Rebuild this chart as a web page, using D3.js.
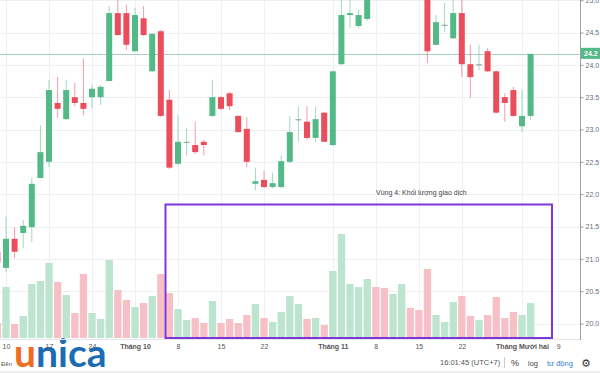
<!DOCTYPE html>
<html><head><meta charset="utf-8">
<script src="https://cdn.jsdelivr.net/npm/d3@7/dist/d3.min.js"></script>
<style>html,body{margin:0;padding:0;background:#fff;}svg{display:block;font-family:"Liberation Sans",Arial,sans-serif;}</style>
</head><body><svg id="c" width="600" height="373"></svg>
<script>
const dates = ["2018-09-07","2018-09-10","2018-09-11","2018-09-12","2018-09-13","2018-09-14","2018-09-17","2018-09-18","2018-09-19","2018-09-20","2018-09-21","2018-09-24","2018-09-25","2018-09-26","2018-09-27","2018-09-28",
"2018-10-01","2018-10-02","2018-10-03","2018-10-04","2018-10-05","2018-10-08","2018-10-09","2018-10-10","2018-10-11","2018-10-12","2018-10-15","2018-10-16","2018-10-17","2018-10-18","2018-10-19","2018-10-22","2018-10-23","2018-10-24","2018-10-25","2018-10-26","2018-10-29","2018-10-30","2018-10-31",
"2018-11-01","2018-11-02","2018-11-05","2018-11-06","2018-11-07","2018-11-08","2018-11-09","2018-11-12","2018-11-13","2018-11-14","2018-11-15","2018-11-16","2018-11-19","2018-11-20","2018-11-21","2018-11-22","2018-11-23","2018-11-26","2018-11-27","2018-11-28","2018-11-29","2018-11-30",
"2018-12-03","2018-12-04"];
const openV  = [21.11,20.86,21.31,21.40,21.49,22.25,22.50,23.41,23.16,23.50,23.41,23.50,23.50,23.75,24.80,24.80,24.21,24.72,23.90,24.52,23.46,22.47,22.81,22.76,22.81,23.21,23.50,23.56,23.21,23.01,22.16,22.22,22.11,22.11,22.50,23.16,23.12,22.87,23.26,22.76,24.01,24.77,24.60,24.71,25.60,25.50,25.30,25.50,25.80,25.50,25.15,24.31,24.62,24.41,24.80,24.01,24.01,24.21,23.90,23.50,23.61,23.05,23.21];
const highV  = [21.17,21.65,21.49,21.60,22.25,23.07,23.77,23.81,23.77,23.72,24.10,23.69,23.69,24.91,25.05,24.93,24.88,24.91,24.49,24.54,23.61,23.22,23.02,23.12,22.84,23.77,23.52,23.58,23.22,23.19,22.41,22.36,22.33,22.60,23.21,23.36,23.36,23.36,23.27,23.91,25.05,25.05,24.85,25.10,25.75,25.65,25.70,25.90,25.90,25.60,25.30,24.77,24.96,25.05,25.05,24.31,24.31,24.26,23.91,23.56,23.66,23.61,24.17];
const lowV   = [20.89,20.80,21.01,21.17,21.26,22.24,22.42,23.18,23.15,23.36,23.22,23.33,23.38,23.75,24.46,24.23,24.20,24.45,23.89,23.19,22.39,22.45,22.60,22.62,22.60,23.19,23.30,23.30,22.95,22.42,22.06,22.10,22.09,22.09,22.48,22.81,22.84,22.81,22.81,22.74,24.00,24.57,24.57,24.68,25.30,25.20,25.20,25.40,25.40,25.10,24.03,24.30,24.51,24.40,23.81,23.49,23.92,23.89,23.25,23.12,23.20,22.96,23.15];
const closeV = [20.94,21.31,21.11,21.51,22.16,22.65,23.61,23.32,23.61,23.41,23.32,23.63,23.66,24.80,24.46,24.31,24.77,24.46,24.48,23.21,22.41,22.81,22.81,22.65,22.76,23.50,23.32,23.36,22.96,22.50,22.20,22.11,22.17,22.51,22.96,23.16,22.87,23.16,22.81,23.90,24.77,24.80,24.77,25.05,25.40,25.30,25.60,25.80,25.50,25.20,24.21,24.66,24.62,24.80,24.01,23.81,24.01,23.90,23.26,23.41,23.21,23.21,24.17];
const volumeV = [15,51,14,22,54,57,75,56,43,25,64,25,19,78,48,38,31,35,42,64,45,29,18,20,15,37,15,19,15,23,34,20,16,26,42,34,19,20,13,67,104,54,51,59,51,50,44,54,30,28,69,23,16,36,42,22,18,23,41,20,26,23,35];
const tickIdx = [1,6,11,16,21,26,31,39,44,49,54,61,65.2];
const tickLabels = ["10","17","24","Tháng 10","8","15","22","Tháng 11","8","15","22","Tháng Mười hai","9"];
const monthLabels = ["Tháng 10","Tháng 11","Tháng Mười hai"];
const priceTicks = [20.0,20.5,21.0,21.5,22.0,22.5,23.0,23.5,24.0,24.5,25.0];
const annotation = "Vùng 4: Khối lượng giao dịch";

const UP="#53b987", DOWN="#eb4d5c", VUP="#bce4cf", VDOWN="#f7c0c7";
const svg = d3.select("#c");
const plotRight = 580, plotBottom = 339;
const x = d3.scaleLinear().domain([0, dates.length-1]).range([-2.6, -2.6 + 8.6*(dates.length-1)]);
const yP = d3.scaleLinear().domain([20, 24.5]).range([323.5, 32.5]);
const yV = d3.scaleLinear().domain([0, 100]).range([338, 238]);

svg.append("rect").attr("width",600).attr("height",373).attr("fill","#fff");

// logo (drawn underneath the axis labels)
const logo = svg.append("text").attr("x",14).attr("y",367).attr("font-family","Lato, sans-serif")
  .attr("font-weight","bold").attr("font-size",39);
logo.append("tspan").attr("fill","#f26b22").text("u");
logo.append("tspan").attr("fill","#1b6cb3").text("nica");

const plot = svg.append("g");
// grid
plot.selectAll(".hg").data(priceTicks).join("line")
  .attr("x1",0).attr("x2",plotRight).attr("y1",d=>Math.round(yP(d))+0.5).attr("y2",d=>Math.round(yP(d))+0.5)
  .attr("stroke","#eef0f3");
plot.selectAll(".vg").data(tickIdx).join("line")
  .attr("x1",d=>Math.round(x(d))+0.5).attr("x2",d=>Math.round(x(d))+0.5).attr("y1",0).attr("y2",plotBottom)
  .attr("stroke","#eef0f3");

const data = dates.map((d,i)=>({i, o:openV[i], h:highV[i], l:lowV[i], c:closeV[i], v:volumeV[i], up: closeV[i]>=openV[i]}));

// volume
plot.selectAll(".vol").data(data).join("rect")
  .attr("x",d=>x(d.i)-3.6).attr("width",7.3)
  .attr("y",d=>yV(d.v)).attr("height",d=>yV(0)-yV(d.v))
  .attr("fill",d=>d.up?VUP:VDOWN);

// last price line
const last = data[data.length-1];
plot.append("line").attr("x1",0).attr("x2",plotRight)
  .attr("y1",Math.round(yP(last.c))+0.5).attr("y2",Math.round(yP(last.c))+0.5)
  .attr("stroke","#a9cfbd").attr("stroke-width",1);

// candles
const cg = plot.selectAll(".cd").data(data).join("g");
cg.append("line").attr("x1",d=>x(d.i)).attr("x2",d=>x(d.i))
  .attr("y1",d=>yP(d.h)).attr("y2",d=>yP(d.l))
  .attr("stroke",d=>d.up?UP:DOWN).attr("stroke-opacity",0.55).attr("stroke-width",1);
cg.append("rect").attr("x",d=>x(d.i)-3).attr("width",6)
  .attr("y",d=>yP(Math.max(d.o,d.c))).attr("height",d=>Math.max(1.2, Math.abs(yP(d.o)-yP(d.c))))
  .attr("fill",d=>d.o===d.c?"#9aa8a0":(d.up?UP:DOWN));

// annotation box
plot.append("rect").attr("x",165.5).attr("y",204.5).attr("width",386.5).attr("height",133.5)
  .attr("fill","none").attr("stroke","#7d36d8").attr("stroke-width",2);
svg.append("text").attr("x",376).attr("y",195).attr("font-size",7).attr("fill","#444").text(annotation);

// right axis
const ra = svg.append("g").attr("transform",`translate(${plotRight+0.5},0)`)
  .call(d3.axisRight(yP).tickValues(priceTicks).tickSize(3).tickPadding(2).tickFormat(d3.format(".1f")));
ra.select(".domain").attr("stroke","#9a9ea8").attr("d","M0,0V340");
ra.selectAll(".tick line").attr("stroke","#9a9ea8");
ra.selectAll("text").attr("font-size",7).attr("fill","#6a6d78").attr("font-family","Liberation Sans, Arial, sans-serif");
// last price label
const ly = yP(last.c);
svg.append("rect").attr("x",plotRight+1).attr("y",ly-6).attr("width",19).attr("height",11).attr("fill",UP);
svg.append("text").attr("x",plotRight+4).attr("y",ly+2.5).attr("font-size",7).attr("font-weight","bold").attr("fill","#fff").text(d3.format(".1f")(last.c));

// bottom axis
const ba = svg.append("g").attr("transform",`translate(0,${plotBottom+0.5})`)
  .call(d3.axisBottom(x).tickValues(tickIdx).tickSize(0).tickPadding(5).tickFormat((d,k)=>tickLabels[k]));
ba.select(".domain").attr("stroke","#e3e5ea").attr("d",`M0,0H${plotRight}`);
ba.selectAll("text").attr("font-size",7).attr("fill","#555").attr("font-family","Liberation Sans, Arial, sans-serif")
  .attr("font-weight",(d,k)=>monthLabels.includes(tickLabels[k])?"bold":"normal");

// toolbar
const tb = svg.append("g").attr("font-size",7.5).attr("fill","#555");
tb.append("text").attr("x",1).attr("y",366).attr("font-size",6).text("Đến");
tb.append("text").attr("x",440).attr("y",365).text("16:01:45 (UTC+7)");
tb.append("line").attr("x1",504.5).attr("x2",504.5).attr("y1",357).attr("y2",368).attr("stroke","#ccc");
tb.append("text").attr("x",511).attr("y",366).attr("font-size",9).attr("fill","#333").text("%");
tb.append("text").attr("x",528).attr("y",366).attr("font-size",7.5).attr("fill","#444").text("log");
tb.append("text").attr("x",547).attr("y",366).attr("font-size",7.5).attr("fill","#2f7bd6").text("tư động");
tb.append("text").attr("x",581).attr("y",367).attr("font-size",11).attr("font-family","DejaVu Sans").attr("fill","#333").text("⚙");
svg.append("rect").attr("x",0).attr("y",371).attr("width",600).attr("height",2).attr("fill","#ececec");
</script></body></html>
